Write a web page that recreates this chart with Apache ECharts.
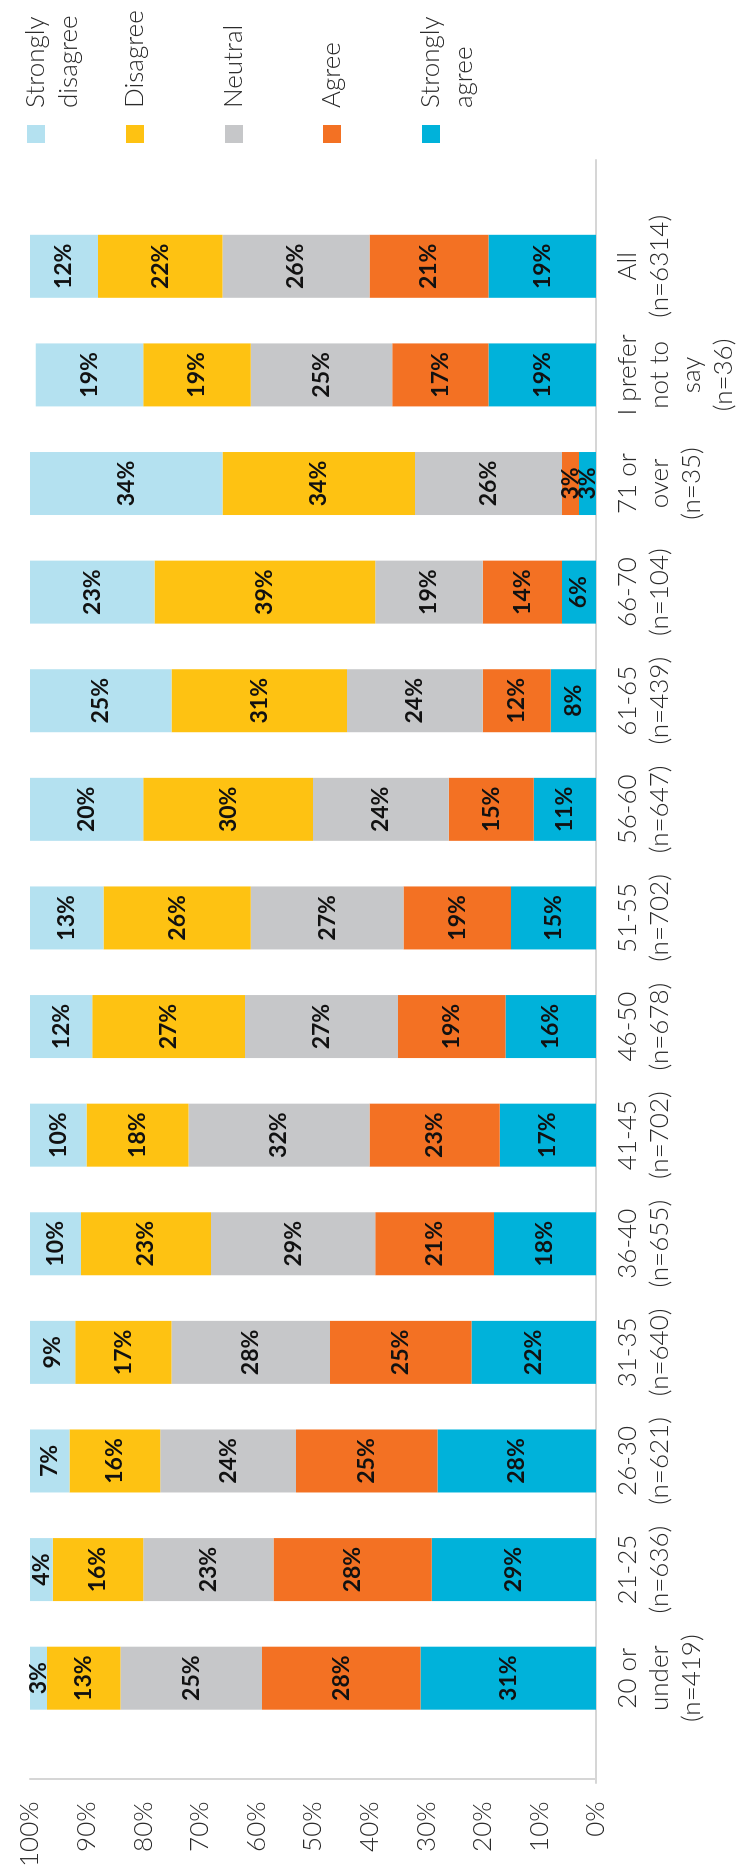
<!DOCTYPE html>
<html>
<head>
<meta charset="utf-8">
<title>Agreement by age group</title>
<script src="https://cdn.jsdelivr.net/npm/echarts@6/dist/echarts.min.js"></script>
<style>
  html, body { margin: 0; padding: 0; background: #ffffff; overflow: hidden; width: 741px; height: 1870px; }
  /* The chart is laid out as a 1870x741 column chart and turned a quarter-turn counter-clockwise. */
  #chart {
    position: absolute; left: 0; top: 0;
    width: 1870px; height: 741px;
    transform-origin: 0 0;
    transform: translate(0, 1870px) rotate(-90deg);
  }
</style>
</head>
<body>
<div id="chart"></div>
<script>
// Age groups (x axis)
const categories = [
  '20 or\nunder\n(n=419)', '21-25\n(n=636)', '26-30\n(n=621)', '31-35\n(n=640)',
  '36-40\n(n=655)', '41-45\n(n=702)', '46-50\n(n=678)', '51-55\n(n=702)',
  '56-60\n(n=647)', '61-65\n(n=439)', '66-70\n(n=104)', '71 or\nover\n(n=35)',
  'I prefer\nnot to\nsay\n(n=36)', 'All\n(n=6314)'
];

// Share of respondents per answer, in percent
const stronglyDisagree = [3, 4, 7, 9, 10, 10, 12, 13, 20, 25, 23, 34, 19, 12];
const disagree         = [13, 16, 16, 17, 23, 18, 27, 26, 30, 31, 39, 34, 19, 22];
const neutral          = [25, 23, 24, 28, 29, 32, 27, 27, 24, 24, 19, 26, 25, 26];
const agree            = [28, 28, 25, 25, 21, 23, 19, 19, 15, 12, 14, 3, 17, 21];
const stronglyAgree    = [31, 29, 28, 22, 18, 17, 16, 15, 11, 8, 6, 3, 19, 19];

// Legend names, top to bottom
const answerNames = ['Strongly\ndisagree', 'Disagree', 'Neutral', 'Agree', 'Strongly\nagree'];
const answerColors = ['#b4e1f0', '#fec212', '#c6c7c9', '#f37123', '#00b2da'];

const lightFont = 'Lato, "Open Sans", "DejaVu Sans", sans-serif';
const textColor = '#2b2b2b';
const axisGrey = '#d6d6d6';

// Stack from the bottom: strongly agree first
const stackOrder = [
  { name: answerNames[4], data: stronglyAgree,    color: answerColors[4] },
  { name: answerNames[3], data: agree,            color: answerColors[3] },
  { name: answerNames[2], data: neutral,          color: answerColors[2] },
  { name: answerNames[1], data: disagree,         color: answerColors[1] },
  { name: answerNames[0], data: stronglyDisagree, color: answerColors[0] }
];

const series = stackOrder.map(s => ({
  name: s.name,
  type: 'bar',
  stack: 'total',
  xAxisIndex: 0,
  yAxisIndex: 0,
  barWidth: 63,
  data: s.data,
  itemStyle: { color: s.color },
  label: {
    show: true,
    position: 'inside',
    formatter: '{c}%',
    color: '#111111',
    fontFamily: lightFont,
    fontWeight: 'bold',
    fontSize: 23
  },
  emphasis: { disabled: true }
}));

// One legend block per answer. Two-line names get an empty leading line so the
// icon, which sits at the middle of the text block, lines up with the first line.
const iconTops = [27, 126, 225, 323, 422];
const lineH = 33;
const legends = answerNames.map((name, i) => {
  const twoLines = name.indexOf('\n') >= 0;
  return {
    show: true,
    orient: 'horizontal',
    left: 1727,
    top: twoLines ? iconTops[i] - 1.5 * lineH + 9 : iconTops[i] - lineH / 2 + 9,
    padding: 0,
    itemWidth: 18,
    itemHeight: 18,
    icon: 'rect',
    selectedMode: false,
    data: [name],
    formatter: n => (twoLines ? '\n' + n : n),
    textStyle: {
      color: textColor,
      fontFamily: lightFont,
      fontWeight: 300,
      fontSize: 26,
      lineHeight: lineH,
      padding: [0, 0, 0, 12]
    }
  };
});

const option = {
  animation: false,
  backgroundColor: '#ffffff',
  legend: legends,
  grid: [
    { left: 134, right: 212, top: 30, bottom: 145, containLabel: false },
    // frame for the long baseline that runs past the first and last bars
    { left: 87, right: 160, top: 30, bottom: 145, containLabel: false }
  ],
  xAxis: [
    {
      type: 'category',
      gridIndex: 0,
      data: categories,
      axisLine: { show: false },
      axisTick: { show: false },
      axisLabel: {
        interval: 0,
        margin: 16,
        color: textColor,
        fontFamily: lightFont,
        fontWeight: 300,
        fontSize: 26,
        lineHeight: 32,
        align: 'center'
      }
    },
    {
      type: 'value',
      gridIndex: 1,
      min: 0,
      max: 1,
      axisLine: { show: true, lineStyle: { color: axisGrey, width: 2 } },
      axisTick: { show: false },
      axisLabel: { show: false },
      splitLine: { show: false }
    }
  ],
  yAxis: [
    {
      type: 'value',
      gridIndex: 0,
      min: 0,
      max: 100,
      interval: 10,
      offset: 47,
      axisLine: { show: true, lineStyle: { color: axisGrey, width: 2 } },
      axisTick: { show: false },
      splitLine: { show: false },
      axisLabel: {
        formatter: '{value}%',
        margin: 22,
        padding: [0, 0, 10, 0],
        color: textColor,
        fontFamily: lightFont,
        fontWeight: 300,
        fontSize: 26
      }
    },
    {
      type: 'value',
      gridIndex: 1,
      show: false,
      min: 0,
      max: 1
    }
  ],
  series: series
};

const chart = echarts.init(document.getElementById('chart'), null, { renderer: 'canvas' });
chart.setOption(option);
</script>
</body>
</html>
